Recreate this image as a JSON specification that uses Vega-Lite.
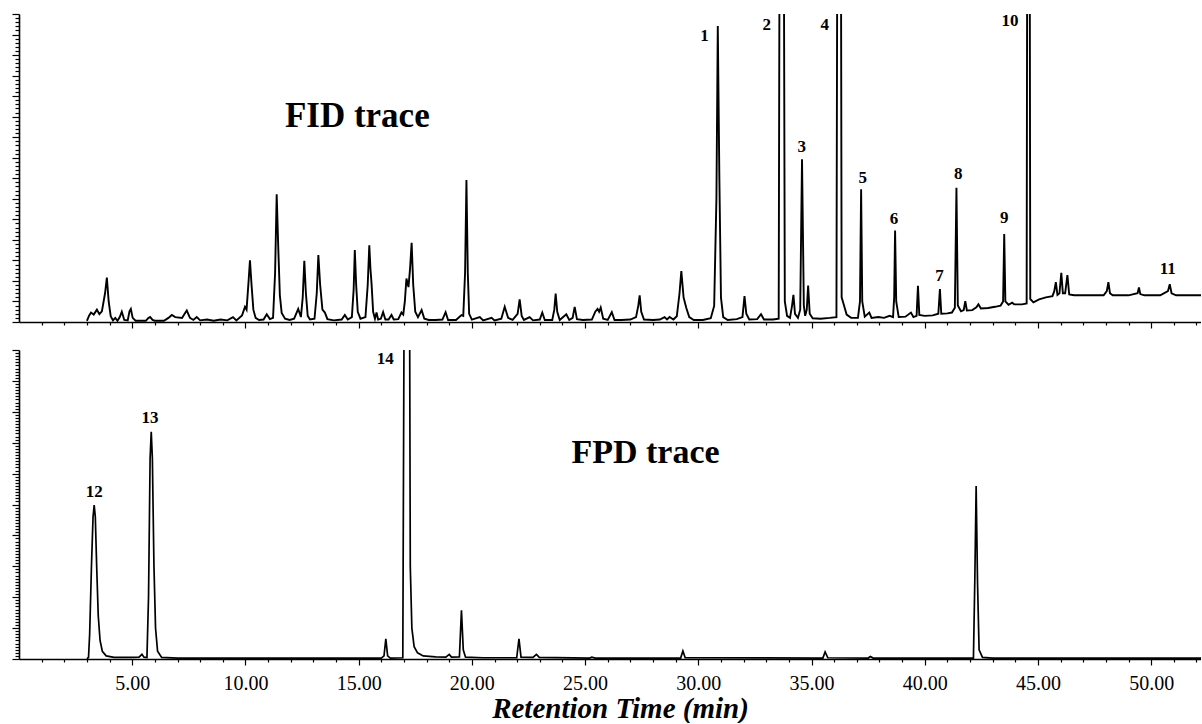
{
  "$schema": "https://vega.github.io/schema/vega-lite/v6.json",
  "padding": {"left": 11, "top": 11, "right": 0, "bottom": 0},
  "background": "white",
  "bounds": "flush",
  "spacing": 28,
  "config": {
    "view": {"stroke": null},
    "axis": {"grid": false, "domainColor": "#000", "tickColor": "#000", "labelColor": "#000", "titleColor": "#000", "domainWidth": 1.6, "tickWidth": 1.2}
  },
  "datasets": {
    "fid": [
      {"t":3.00,"v":0.3},{"t":3.10,"v":1.6},{"t":3.18,"v":2.3},{"t":3.30,"v":1.8},{"t":3.44,"v":3.0},{"t":3.55,"v":1.9},{"t":3.66,"v":2.6},{"t":3.80,"v":7.0},{"t":3.88,"v":10.8},{"t":3.96,"v":5.0},
      {"t":4.05,"v":1.4},{"t":4.15,"v":0.4},{"t":4.25,"v":1.0},{"t":4.35,"v":0.3},{"t":4.45,"v":1.2},{"t":4.54,"v":2.5},{"t":4.65,"v":0.5},{"t":4.80,"v":0.4},{"t":4.88,"v":2.6},{"t":4.94,"v":3.2},
      {"t":5.02,"v":1.0},{"t":5.15,"v":0.3},{"t":5.60,"v":0.3},{"t":5.70,"v":0.9},{"t":5.79,"v":1.2},{"t":5.90,"v":0.5},{"t":6.00,"v":0.3},{"t":6.40,"v":0.3},{"t":6.60,"v":1.0},{"t":6.75,"v":1.7},
      {"t":6.90,"v":1.2},{"t":7.20,"v":1.0},{"t":7.35,"v":2.3},{"t":7.41,"v":2.8},{"t":7.55,"v":1.0},{"t":7.70,"v":0.5},{"t":7.85,"v":1.2},{"t":8.00,"v":0.4},{"t":8.30,"v":0.6},{"t":8.60,"v":0.3},
      {"t":8.90,"v":0.6},{"t":9.20,"v":0.4},{"t":9.45,"v":1.2},{"t":9.60,"v":0.4},{"t":9.85,"v":1.6},{"t":9.98,"v":3.7},{"t":10.05,"v":3.0},{"t":10.14,"v":10.0},{"t":10.20,"v":15.0},{"t":10.27,"v":9.0},
      {"t":10.35,"v":3.0},{"t":10.45,"v":1.0},{"t":10.60,"v":0.5},{"t":10.80,"v":0.6},{"t":10.94,"v":1.9},{"t":11.08,"v":0.7},{"t":11.22,"v":1.0},{"t":11.31,"v":12.0},{"t":11.38,"v":31.1},{"t":11.45,"v":18.0},
      {"t":11.52,"v":6.5},{"t":11.60,"v":2.2},{"t":11.75,"v":0.8},{"t":11.95,"v":0.5},{"t":12.15,"v":0.8},{"t":12.33,"v":3.2},{"t":12.45,"v":1.2},{"t":12.53,"v":6.0},{"t":12.60,"v":14.9},{"t":12.67,"v":7.0},
      {"t":12.75,"v":1.5},{"t":12.85,"v":0.6},{"t":13.05,"v":0.8},{"t":13.15,"v":7.0},{"t":13.22,"v":16.3},{"t":13.30,"v":9.0},{"t":13.40,"v":3.0},{"t":13.51,"v":2.3},{"t":13.62,"v":0.7},{"t":13.90,"v":0.4},
      {"t":14.25,"v":0.6},{"t":14.39,"v":1.7},{"t":14.52,"v":0.6},{"t":14.70,"v":1.2},{"t":14.78,"v":8.0},{"t":14.83,"v":17.5},{"t":14.89,"v":9.0},{"t":14.96,"v":2.5},{"t":15.08,"v":0.8},{"t":15.30,"v":1.2},
      {"t":15.40,"v":9.0},{"t":15.47,"v":18.7},{"t":15.52,"v":13.0},{"t":15.57,"v":9.3},{"t":15.64,"v":2.5},{"t":15.72,"v":0.8},{"t":15.79,"v":2.3},{"t":15.86,"v":0.6},{"t":15.98,"v":0.8},{"t":16.08,"v":2.4},
      {"t":16.18,"v":0.6},{"t":16.32,"v":0.6},{"t":16.45,"v":1.7},{"t":16.55,"v":0.6},{"t":16.75,"v":0.7},{"t":16.89,"v":2.3},{"t":16.97,"v":1.8},{"t":17.04,"v":5.0},{"t":17.11,"v":10.6},{"t":17.20,"v":8.5},
      {"t":17.27,"v":13.0},{"t":17.34,"v":19.3},{"t":17.41,"v":9.0},{"t":17.50,"v":2.5},{"t":17.62,"v":1.2},{"t":17.78,"v":2.9},{"t":17.90,"v":0.8},{"t":18.10,"v":0.5},{"t":18.40,"v":0.5},{"t":18.70,"v":0.6},
      {"t":18.84,"v":2.4},{"t":18.95,"v":0.5},{"t":19.30,"v":0.5},{"t":19.54,"v":1.7},{"t":19.62,"v":1.5},{"t":19.70,"v":12.0},{"t":19.76,"v":34.6},{"t":19.82,"v":12.0},{"t":19.88,"v":2.0},{"t":20.00,"v":0.6},
      {"t":20.35,"v":1.2},{"t":20.50,"v":0.4},{"t":20.87,"v":1.0},{"t":21.00,"v":0.4},{"t":21.30,"v":0.8},{"t":21.45,"v":3.7},{"t":21.60,"v":1.0},{"t":21.80,"v":0.5},{"t":22.02,"v":2.0},{"t":22.11,"v":5.5},
      {"t":22.20,"v":1.5},{"t":22.30,"v":0.5},{"t":22.55,"v":1.2},{"t":22.70,"v":0.4},{"t":23.00,"v":0.6},{"t":23.11,"v":2.3},{"t":23.22,"v":0.5},{"t":23.55,"v":0.5},{"t":23.64,"v":3.0},{"t":23.70,"v":6.9},
      {"t":23.77,"v":2.5},{"t":23.88,"v":0.5},{"t":24.17,"v":1.9},{"t":24.30,"v":0.5},{"t":24.45,"v":1.0},{"t":24.54,"v":3.7},{"t":24.64,"v":0.7},{"t":24.90,"v":0.5},{"t":25.30,"v":0.6},{"t":25.45,"v":2.5},
      {"t":25.55,"v":3.2},{"t":25.62,"v":2.5},{"t":25.69,"v":3.5},{"t":25.80,"v":0.8},{"t":26.00,"v":0.5},{"t":26.18,"v":2.4},{"t":26.30,"v":0.5},{"t":26.60,"v":0.5},{"t":27.00,"v":0.6},{"t":27.25,"v":1.2},
      {"t":27.35,"v":4.0},{"t":27.41,"v":6.5},{"t":27.48,"v":2.5},{"t":27.60,"v":0.6},{"t":28.00,"v":0.5},{"t":28.30,"v":0.6},{"t":28.51,"v":1.2},{"t":28.62,"v":0.6},{"t":28.73,"v":1.2},{"t":28.90,"v":0.6},
      {"t":29.05,"v":1.4},{"t":29.17,"v":7.0},{"t":29.25,"v":12.4},{"t":29.35,"v":6.0},{"t":29.47,"v":3.4},{"t":29.60,"v":1.2},{"t":29.80,"v":0.5},{"t":30.20,"v":0.5},{"t":30.55,"v":0.9},{"t":30.70,"v":3.9},
      {"t":30.80,"v":30.0},{"t":30.86,"v":72.1},{"t":30.93,"v":35.0},{"t":31.00,"v":6.0},{"t":31.10,"v":1.2},{"t":31.30,"v":0.5},{"t":31.70,"v":0.7},{"t":31.95,"v":1.2},{"t":32.04,"v":6.3},{"t":32.12,"v":2.0},
      {"t":32.25,"v":0.6},{"t":32.60,"v":0.7},{"t":32.77,"v":1.9},{"t":32.90,"v":0.6},{"t":33.30,"v":0.6},{"t":33.55,"v":0.8},{"t":33.61,"v":150},{"t":33.75,"v":150},{"t":33.82,"v":5.0},{"t":33.92,"v":1.5},
      {"t":34.05,"v":1.0},{"t":34.14,"v":4.0},{"t":34.20,"v":6.6},{"t":34.27,"v":2.0},{"t":34.40,"v":1.0},{"t":34.50,"v":3.0},{"t":34.58,"v":39.6},{"t":34.66,"v":4.0},{"t":34.72,"v":1.5},{"t":34.79,"v":3.0},
      {"t":34.85,"v":8.9},{"t":34.92,"v":2.0},{"t":35.05,"v":0.9},{"t":35.40,"v":0.8},{"t":35.80,"v":1.0},{"t":36.10,"v":1.2},{"t":36.16,"v":150},{"t":36.28,"v":150},{"t":36.33,"v":6.0},{"t":36.40,"v":4.7},
      {"t":36.55,"v":1.8},{"t":36.75,"v":1.0},{"t":37.05,"v":1.0},{"t":37.14,"v":5.0},{"t":37.19,"v":32.3},{"t":37.24,"v":5.0},{"t":37.35,"v":1.3},{"t":37.55,"v":2.3},{"t":37.65,"v":1.0},{"t":37.95,"v":1.2},
      {"t":38.20,"v":1.0},{"t":38.45,"v":1.5},{"t":38.60,"v":1.2},{"t":38.65,"v":6.0},{"t":38.69,"v":22.3},{"t":38.74,"v":5.0},{"t":38.85,"v":1.2},{"t":39.15,"v":1.3},{"t":39.39,"v":2.3},{"t":39.50,"v":1.2},
      {"t":39.64,"v":1.5},{"t":39.70,"v":8.8},{"t":39.76,"v":1.7},{"t":40.00,"v":1.5},{"t":40.35,"v":1.6},{"t":40.60,"v":2.0},{"t":40.67,"v":8.0},{"t":40.73,"v":2.0},{"t":41.00,"v":2.1},{"t":41.20,"v":2.3},
      {"t":41.33,"v":3.5},{"t":41.40,"v":32.7},{"t":41.46,"v":4.0},{"t":41.60,"v":2.6},{"t":41.72,"v":2.9},{"t":41.79,"v":5.1},{"t":41.86,"v":2.8},{"t":42.10,"v":2.9},{"t":42.28,"v":3.6},{"t":42.37,"v":4.3},
      {"t":42.48,"v":3.3},{"t":42.80,"v":3.4},{"t":43.10,"v":3.7},{"t":43.35,"v":4.0},{"t":43.46,"v":5.0},{"t":43.51,"v":21.4},{"t":43.56,"v":5.0},{"t":43.70,"v":4.2},{"t":43.86,"v":4.7},{"t":43.95,"v":4.3},
      {"t":44.30,"v":4.3},{"t":44.50,"v":4.5},{"t":44.54,"v":150},{"t":44.62,"v":150},{"t":44.66,"v":5.6},{"t":44.80,"v":4.8},{"t":45.05,"v":5.5},{"t":45.35,"v":6.0},{"t":45.64,"v":6.3},{"t":45.72,"v":7.5},
      {"t":45.79,"v":9.7},{"t":45.86,"v":6.6},{"t":45.95,"v":7.0},{"t":46.03,"v":12.0},{"t":46.10,"v":7.0},{"t":46.20,"v":7.0},{"t":46.30,"v":11.4},{"t":46.38,"v":6.7},{"t":46.60,"v":6.5},{"t":47.20,"v":6.5},
      {"t":47.90,"v":6.5},{"t":48.04,"v":7.5},{"t":48.11,"v":9.7},{"t":48.18,"v":7.0},{"t":48.30,"v":6.5},{"t":49.00,"v":6.5},{"t":49.40,"v":7.0},{"t":49.46,"v":8.4},{"t":49.52,"v":6.8},{"t":49.70,"v":6.5},
      {"t":50.40,"v":6.5},{"t":50.74,"v":7.5},{"t":50.82,"v":9.2},{"t":50.90,"v":7.0},{"t":51.10,"v":6.5},{"t":52.20,"v":6.5}
    ],
    "fpd": [
      {"t":3.00,"v":0.1},{"t":3.07,"v":0.5},{"t":3.12,"v":8},{"t":3.20,"v":30},{"t":3.27,"v":46},{"t":3.32,"v":49.8},{"t":3.37,"v":46},{"t":3.43,"v":30},{"t":3.50,"v":14},{"t":3.58,"v":6},
      {"t":3.68,"v":2.5},{"t":3.85,"v":1.0},{"t":4.20,"v":0.5},{"t":5.00,"v":0.5},{"t":5.30,"v":0.6},{"t":5.43,"v":1.5},{"t":5.52,"v":0.6},{"t":5.65,"v":0.5},{"t":5.72,"v":20},{"t":5.79,"v":65},
      {"t":5.84,"v":73.5},{"t":5.89,"v":65},{"t":5.96,"v":30},{"t":6.03,"v":10},{"t":6.12,"v":2.5},{"t":6.30,"v":0.5},{"t":7.00,"v":0.3},{"t":16.00,"v":0.3},{"t":16.12,"v":1.0},{"t":16.20,"v":6.5},
      {"t":16.28,"v":1.0},{"t":16.40,"v":0.3},{"t":16.95,"v":0.4},{"t":17.02,"v":140},{"t":17.24,"v":140},{"t":17.28,"v":30},{"t":17.35,"v":10},{"t":17.45,"v":4},{"t":17.60,"v":2.0},{"t":17.85,"v":1.0},
      {"t":18.40,"v":0.7},{"t":18.85,"v":0.6},{"t":19.00,"v":1.5},{"t":19.10,"v":0.6},{"t":19.45,"v":0.7},{"t":19.54,"v":15.8},{"t":19.62,"v":3},{"t":19.72,"v":0.6},{"t":20.50,"v":0.4},{"t":21.98,"v":0.4},
      {"t":22.08,"v":6.5},{"t":22.17,"v":0.6},{"t":22.70,"v":0.5},{"t":22.85,"v":1.5},{"t":22.98,"v":0.5},{"t":25.20,"v":0.3},{"t":25.30,"v":0.6},{"t":25.45,"v":0.3},{"t":29.22,"v":0.3},{"t":29.32,"v":2.6},
      {"t":29.42,"v":0.4},{"t":35.50,"v":0.3},{"t":35.60,"v":2.3},{"t":35.72,"v":0.4},{"t":37.50,"v":0.3},{"t":37.60,"v":0.8},{"t":37.72,"v":0.3},{"t":42.15,"v":0.3},{"t":42.21,"v":25},{"t":42.27,"v":56},
      {"t":42.33,"v":25},{"t":42.40,"v":3},{"t":42.55,"v":0.5},{"t":43.00,"v":0.3},{"t":52.20,"v":0.3}
    ],
    "notes": [
      {"panel":"FID","kind":"peak","label":"1","t":30.27,"v":69.6},
      {"panel":"FID","kind":"peak","label":"2","t":33.02,"v":72.3},
      {"panel":"FID","kind":"peak","label":"3","t":34.57,"v":42.7},
      {"panel":"FID","kind":"peak","label":"4","t":35.58,"v":72.4},
      {"panel":"FID","kind":"peak","label":"5","t":37.26,"v":35.1},
      {"panel":"FID","kind":"peak","label":"6","t":38.64,"v":25.2},
      {"panel":"FID","kind":"peak","label":"7","t":40.65,"v":11.2},
      {"panel":"FID","kind":"peak","label":"8","t":41.48,"v":36.0},
      {"panel":"FID","kind":"peak","label":"9","t":43.51,"v":25.4},
      {"panel":"FID","kind":"peak","label":"10","t":43.76,"v":73.3},
      {"panel":"FID","kind":"peak","label":"11","t":50.73,"v":12.8},
      {"panel":"FID","kind":"title","label":"FID trace","t":14.94,"v":50.2},
      {"panel":"FPD","kind":"peak","label":"12","t":3.32,"v":54.1},
      {"panel":"FPD","kind":"peak","label":"13","t":5.79,"v":77.9},
      {"panel":"FPD","kind":"peak","label":"14","t":16.18,"v":97.2},
      {"panel":"FPD","kind":"title","label":"FPD trace","t":27.67,"v":66.7}
    ]
  },
  "vconcat": [
    {
      "width": 1182,
      "height": 308,
      "encoding": {
        "x": {"field": "t", "type": "quantitative", "scale": {"domain": [0, 52.2], "nice": false},
          "axis": {"values": [1,2,3,4,5,6,7,8,9,10,11,12,13,14,15,16,17,18,19,20,21,22,23,24,25,26,27,28,29,30,31,32,33,34,35,36,37,38,39,40,41,42,43,44,45,46,47,48,49,50,51,52],
            "labels": false, "title": null,
            "tickSize": {"condition": {"test": "datum.value % 5 === 0", "value": 6}, "value": 3}}},
        "y": {"field": "v", "type": "quantitative", "scale": {"domain": [0, 75], "nice": false},
          "axis": {"values": [0,1,2,3,4,5,6,7,8,9,10,11,12,13,14,15,16,17,18,19,20,21,22,23,24,25,26,27,28,29,30,31,32,33,34,35,36,37,38,39,40,41,42,43,44,45,46,47,48,49,50,51,52,53,54,55,56,57,58,59,60,61,62,63,64,65,66,67,68,69,70,71,72,73,74,75],
            "labels": false, "title": null,
            "tickSize": {"condition": {"test": "datum.value % 5 === 0", "value": 7}, "value": 4}}}
      },
      "layer": [
        {"data": {"name": "fid"}, "mark": {"type": "line", "color": "#000", "strokeWidth": 1.9, "clip": true}},
        {"data": {"name": "notes"}, "transform": [{"filter": "datum.panel === 'FID' && datum.kind === 'peak'"}],
          "mark": {"type": "text", "font": "Liberation Serif", "fontWeight": "bold", "fontSize": 17, "color": "#000"},
          "encoding": {"text": {"field": "label"}}},
        {"data": {"name": "notes"}, "transform": [{"filter": "datum.panel === 'FID' && datum.kind === 'title'"}],
          "mark": {"type": "text", "font": "Liberation Serif", "fontWeight": "bold", "fontSize": 35, "color": "#000"},
          "encoding": {"text": {"field": "label"}}}
      ]
    },
    {
      "width": 1182,
      "height": 309,
      "encoding": {
        "x": {"field": "t", "type": "quantitative", "scale": {"domain": [0, 52.2], "nice": false},
          "axis": {"values": [1,2,3,4,5,6,7,8,9,10,11,12,13,14,15,16,17,18,19,20,21,22,23,24,25,26,27,28,29,30,31,32,33,34,35,36,37,38,39,40,41,42,43,44,45,46,47,48,49,50,51,52],
            "labelExpr": "datum.value % 5 === 0 ? format(datum.value, '.2f') : ''",
            "labelOverlap": false, "labelFont": "Liberation Serif", "labelFontSize": 20, "labelPadding": 8,
            "title": "Retention Time (min)", "titleFont": "Liberation Serif", "titleFontSize": 29, "titleFontWeight": "bold", "titleFontStyle": "italic", "titlePadding": 1, "titleX": 601,
            "tickSize": {"condition": {"test": "datum.value % 5 === 0", "value": 6}, "value": 3}}},
        "y": {"field": "v", "type": "quantitative", "scale": {"domain": [0, 100], "nice": false},
          "axis": {"values": [0,1,2,3,4,5,6,7,8,9,10,11,12,13,14,15,16,17,18,19,20,21,22,23,24,25,26,27,28,29,30,31,32,33,34,35,36,37,38,39,40,41,42,43,44,45,46,47,48,49,50,51,52,53,54,55,56,57,58,59,60,61,62,63,64,65,66,67,68,69,70,71,72,73,74,75,76,77,78,79,80,81,82,83,84,85,86,87,88,89,90,91,92,93,94,95,96,97,98,99,100],
            "labels": false, "title": null,
            "tickSize": {"condition": {"test": "datum.value % 10 === 0", "value": 7}, "value": 4}}}
      },
      "layer": [
        {"data": {"name": "fpd"}, "mark": {"type": "line", "color": "#000", "strokeWidth": 1.7, "clip": true}},
        {"data": {"name": "notes"}, "transform": [{"filter": "datum.panel === 'FPD' && datum.kind === 'peak'"}],
          "mark": {"type": "text", "font": "Liberation Serif", "fontWeight": "bold", "fontSize": 17, "color": "#000"},
          "encoding": {"text": {"field": "label"}}},
        {"data": {"name": "notes"}, "transform": [{"filter": "datum.panel === 'FPD' && datum.kind === 'title'"}],
          "mark": {"type": "text", "font": "Liberation Serif", "fontWeight": "bold", "fontSize": 34, "color": "#000"},
          "encoding": {"text": {"field": "label"}}}
      ]
    }
  ]
}
